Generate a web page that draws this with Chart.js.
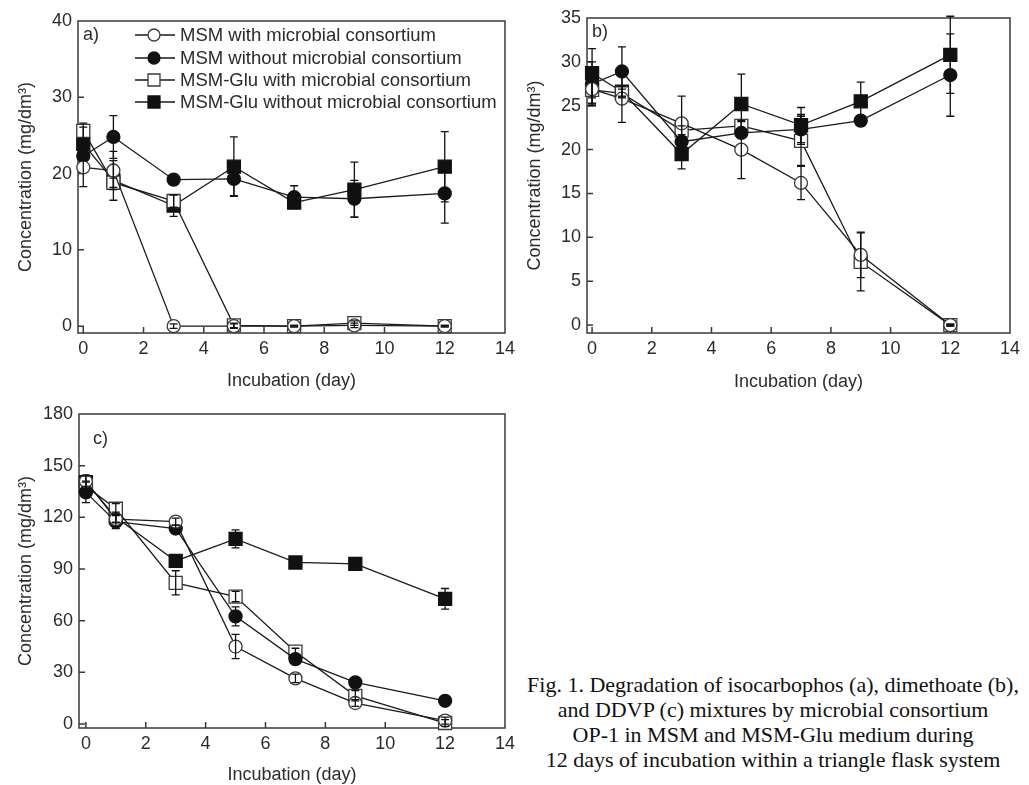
<!DOCTYPE html>
<html>
<head>
<meta charset="utf-8">
<script src="https://cdn.jsdelivr.net/npm/chart.js@4.4.1/dist/chart.umd.min.js"></script>
<style>
  body { margin: 0; background: #fff; width: 1029px; height: 785px; overflow: hidden; position: relative; }
  canvas { position: absolute; }
  #caption {
    position: absolute; left: 520px; top: 672px; width: 506px;
    text-align: center; white-space: nowrap; color: #111;
    font: 22px/25px "Liberation Serif", "Times New Roman", serif;
  }
</style>
</head>
<body>
<canvas id="chartA" width="520" height="395" style="left:0;top:0"></canvas>
<canvas id="chartB" width="519" height="395" style="left:510px;top:0"></canvas>
<canvas id="chartC" width="520" height="390" style="left:0;top:395px"></canvas>
<div id="caption">Fig. 1. Degradation of isocarbophos (a), dimethoate (b),<br>and DDVP (c) mixtures by microbial consortium<br>OP-1 in MSM and MSM-Glu medium during<br>12 days of incubation within a triangle flask system</div>
<script>
const days = [0, 1, 3, 5, 7, 9, 12];
const xTicks = [0, 2, 4, 6, 8, 10, 12, 14];
const seriesNames = [
  "MSM with microbial consortium",
  "MSM without microbial consortium",
  "MSM-Glu with microbial consortium",
  "MSM-Glu without microbial consortium"
];

// a) isocarbophos
const aMsmWith = [20.8, 20.4, 0, 0, 0, 0.1, 0];
const aMsmWithErr = [2.5, 2.5, 0.3, 0.3, 0.1, 0.3, 0.1];
const aMsmWithout = [22.3, 24.8, 19.2, 19.3, 16.9, 16.7, 17.4];
const aMsmWithoutErr = [0.6, 2.8, 0.2, 2.2, 1.5, 2.4, 3.9];
const aGluWith = [25.6, 18.8, 16.4, 0.1, 0, 0.4, 0];
const aGluWithErr = [1.0, 0.6, 0.8, 0.3, 0.1, 0.3, 0.1];
const aGluWithout = [23.9, 19.1, 15.8, 20.9, 16.2, 17.9, 20.9];
const aGluWithoutErr = [2.2, 2.6, 1.4, 3.9, 0.5, 3.6, 4.6];
const aTicks = [0, 10, 20, 30, 40];

// b) dimethoate
const bMsmWith = [26.9, 25.8, 23.0, 20.0, 16.2, 8.0, 0];
const bMsmWithErr = [1.7, 2.7, 3.1, 3.3, 1.9, 2.6, 0.1];
const bMsmWithout = [27.5, 28.9, 20.9, 21.9, 22.3, 23.3, 28.5];
const bMsmWithoutErr = [2.5, 2.8, 0.5, 0.5, 1.7, 0.4, 4.7];
const bGluWith = [26.8, 26.4, 22.2, 22.7, 21.0, 7.2, 0];
const bGluWithErr = [1.5, 0.5, 0.5, 0.5, 2.8, 3.3, 0.1];
const bGluWithout = [28.7, 26.6, 19.5, 25.2, 22.8, 25.5, 30.8];
const bGluWithoutErr = [2.8, 0.6, 1.7, 3.4, 2.0, 2.2, 4.4];
const bTicks = [0, 5, 10, 15, 20, 25, 30, 35];

// c) DDVP
const cMsmWith = [141, 119, 117.5, 45, 26.5, 12.2, 2];
const cMsmWithErr = [3, 2, 2, 7, 2.5, 2, 2];
const cMsmWithout = [134.5, 117.5, 113.5, 62.5, 37.7, 24.2, 13.5];
const cMsmWithoutErr = [6, 4, 2, 5.5, 2, 1, 1];
const cGluWith = [138, 125, 82, 74, 42, 16.4, 0.6];
const cGluWithErr = [3, 3, 7, 3, 2, 3, 2];
const cGluWithout = [140.5, 120, 94.7, 107.5, 93.8, 93, 72.7];
const cGluWithoutErr = [4, 3, 2, 5.2, 1, 1, 6];
const cTicks = [0, 30, 60, 90, 120, 150, 180];

const textColor = "#2b2b2b";
const axisColor = "#3a3a3a";
const sansFont = '"Liberation Sans", Arial, sans-serif';

const styles = [
  { pointStyle: "circle", fill: "#fff", stroke: "#3a3a3a", r: 6.5 },
  { pointStyle: "circle", fill: "#111", stroke: "#111", r: 6.5 },
  { pointStyle: "rect", fill: "#fff", stroke: "#3a3a3a", r: 9.2 },
  { pointStyle: "rect", fill: "#111", stroke: "#111", r: 9.2 }
];

function drawMarker(ctx, st, x, y, scale) {
  ctx.beginPath();
  const r = st.r * scale;
  if (st.pointStyle === "circle") {
    ctx.arc(x, y, r, 0, Math.PI * 2);
  } else {
    const h = r * Math.SQRT1_2;
    ctx.rect(x - h, y - h, 2 * h, 2 * h);
  }
  ctx.fillStyle = st.fill;
  ctx.fill();
  ctx.strokeStyle = st.stroke;
  ctx.lineWidth = 1.3;
  ctx.stroke();
}

// box round the plot plus inward tick marks
const framePlugin = {
  id: "frame",
  beforeDatasetsDraw(chart) {
    const { ctx, chartArea: a, scales: { x, y } } = chart;
    ctx.save();
    ctx.strokeStyle = axisColor;
    ctx.lineWidth = 1.5;
    ctx.strokeRect(a.left, a.top, a.right - a.left, a.bottom - a.top);
    ctx.beginPath();
    x.ticks.forEach(t => {
      const px = x.getPixelForValue(t.value);
      if (px >= a.right - 1) return;
      ctx.moveTo(px, a.bottom);
      ctx.lineTo(px, a.bottom - 6);
    });
    y.ticks.forEach(t => {
      const py = y.getPixelForValue(t.value);
      if (py <= a.top + 1) return;
      ctx.moveTo(a.left, py);
      ctx.lineTo(a.left + 6, py);
    });
    ctx.stroke();
    ctx.restore();
  }
};

const errorBarPlugin = {
  id: "errorBars",
  afterDatasetsDraw(chart) {
    const { ctx, chartArea: a, scales: { y } } = chart;
    ctx.save();
    ctx.strokeStyle = "#111";
    ctx.lineWidth = 1.3;
    chart.data.datasets.forEach((ds, k) => {
      const meta = chart.getDatasetMeta(k);
      meta.data.forEach((pt, i) => {
        const v = ds.data[i].y;
        const e = ds.err[i];
        if (!e) return;
        const top = Math.max(y.getPixelForValue(v + e), a.top - 2);
        const bot = y.getPixelForValue(v - e);
        ctx.beginPath();
        ctx.moveTo(pt.x, top); ctx.lineTo(pt.x, bot);
        ctx.moveTo(pt.x - 4, top); ctx.lineTo(pt.x + 4, top);
        ctx.moveTo(pt.x - 4, bot); ctx.lineTo(pt.x + 4, bot);
        ctx.stroke();
      });
    });
    ctx.restore();
  }
};

// panel letter and (for a) the legend inside the plot
const decorPlugin = {
  id: "decor",
  afterDraw(chart, args, opts) {
    const { ctx, chartArea: a } = chart;
    ctx.save();
    ctx.fillStyle = textColor;
    ctx.textBaseline = "middle";
    ctx.textAlign = "left";
    ctx.font = "18px " + sansFont;
    ctx.fillText(opts.text, a.left + opts.dx, a.top + opts.dy);
    if (opts.legend) {
      const rows = [14, 37, 59, 81];
      ctx.font = "18.5px " + sansFont;
      seriesNames.forEach((name, k) => {
        const yy = a.top + rows[k];
        ctx.strokeStyle = "#1a1a1a";
        ctx.lineWidth = 1.3;
        ctx.beginPath();
        ctx.moveTo(a.left + 57, yy);
        ctx.lineTo(a.left + 97, yy);
        ctx.stroke();
        drawMarker(ctx, styles[k], a.left + 76, yy, 0.92);
        ctx.fillStyle = textColor;
        ctx.fillText(name, a.left + 102, yy + 1);
      });
    }
    ctx.restore();
  }
};

function makeChart(id, c) {
  const datasets = c.series.map((s, k) => ({
    label: seriesNames[k],
    data: days.map((d, i) => ({ x: d, y: s[0][i] })),
    err: s[1],
    borderColor: "#1a1a1a",
    borderWidth: 1.3,
    pointStyle: styles[k].pointStyle,
    pointRadius: styles[k].r,
    pointHoverRadius: styles[k].r,
    pointBackgroundColor: styles[k].fill,
    pointBorderColor: styles[k].stroke,
    pointBorderWidth: 1.3,
    tension: 0,
    clip: false
  }));
  return new Chart(document.getElementById(id), {
    type: "line",
    data: { datasets },
    options: {
      responsive: false,
      animation: false,
      devicePixelRatio: 1,
      layout: { padding: { left: 0, top: c.padTop, right: c.padRight, bottom: 0 } },
      plugins: {
        legend: { display: false },
        tooltip: { enabled: false },
        decor: { text: c.label, dx: c.labelDx, dy: c.labelDy, legend: c.legend }
      },
      scales: {
        x: {
          type: "linear",
          min: c.xMin,
          max: 14,
          grid: { display: false, drawTicks: false },
          border: { display: false },
          afterBuildTicks: s => { s.ticks = xTicks.map(v => ({ value: v })); },
          afterFit: s => { s.height = c.xH; },
          ticks: { color: textColor, font: { family: sansFont, size: 18 }, padding: 5, maxRotation: 0 },
          title: {
            display: true, text: "Incubation (day)", color: textColor,
            font: { family: sansFont, size: 18, lineHeight: 1 },
            padding: { top: 0, bottom: c.xTitlePad }
          }
        },
        y: {
          min: c.yMin,
          max: c.yMax,
          grid: { display: false, drawTicks: false },
          border: { display: false },
          afterBuildTicks: s => { s.ticks = c.yTicks.map(v => ({ value: v })); },
          afterFit: s => { s.width = c.yW; },
          ticks: { color: textColor, font: { family: sansFont, size: 18 }, padding: 6 },
          title: {
            display: true, text: "Concentration (mg/dm³)", color: textColor,
            font: { family: sansFont, size: 18, lineHeight: 1 },
            padding: { top: c.yTitlePad, bottom: 0 }
          }
        }
      }
    },
    plugins: [framePlugin, errorBarPlugin, decorPlugin]
  });
}

makeChart("chartA", {
  series: [[aMsmWith, aMsmWithErr], [aMsmWithout, aMsmWithoutErr], [aGluWith, aGluWithErr], [aGluWithout, aGluWithoutErr]],
  yMin: -0.9, yMax: 40, yTicks: aTicks, xMin: -0.175,
  yW: 78, xH: 62, padTop: 21, padRight: 13, yTitlePad: 17, xTitlePad: 5,
  label: "a)", labelDx: 5, labelDy: 14, legend: true
});

makeChart("chartB", {
  series: [[bMsmWith, bMsmWithErr], [bMsmWithout, bMsmWithoutErr], [bGluWith, bGluWithErr], [bGluWithout, bGluWithoutErr]],
  yMin: -0.9, yMax: 35, yTicks: bTicks, xMin: -0.17,
  yW: 77, xH: 62, padTop: 18, padRight: 19, yTitlePad: 16, xTitlePad: 4,
  label: "b)", labelDx: 5, labelDy: 14, legend: false
});

makeChart("chartC", {
  series: [[cMsmWith, cMsmWithErr], [cMsmWithout, cMsmWithoutErr], [cGluWith, cGluWithErr], [cGluWithout, cGluWithoutErr]],
  yMin: -2.3, yMax: 180, yTicks: cTicks, xMin: -0.23,
  yW: 79, xH: 57, padTop: 19, padRight: 13, yTitlePad: 17, xTitlePad: 1,
  label: "c)", labelDx: 14, labelDy: 25, legend: false
});
</script>
</body>
</html>
